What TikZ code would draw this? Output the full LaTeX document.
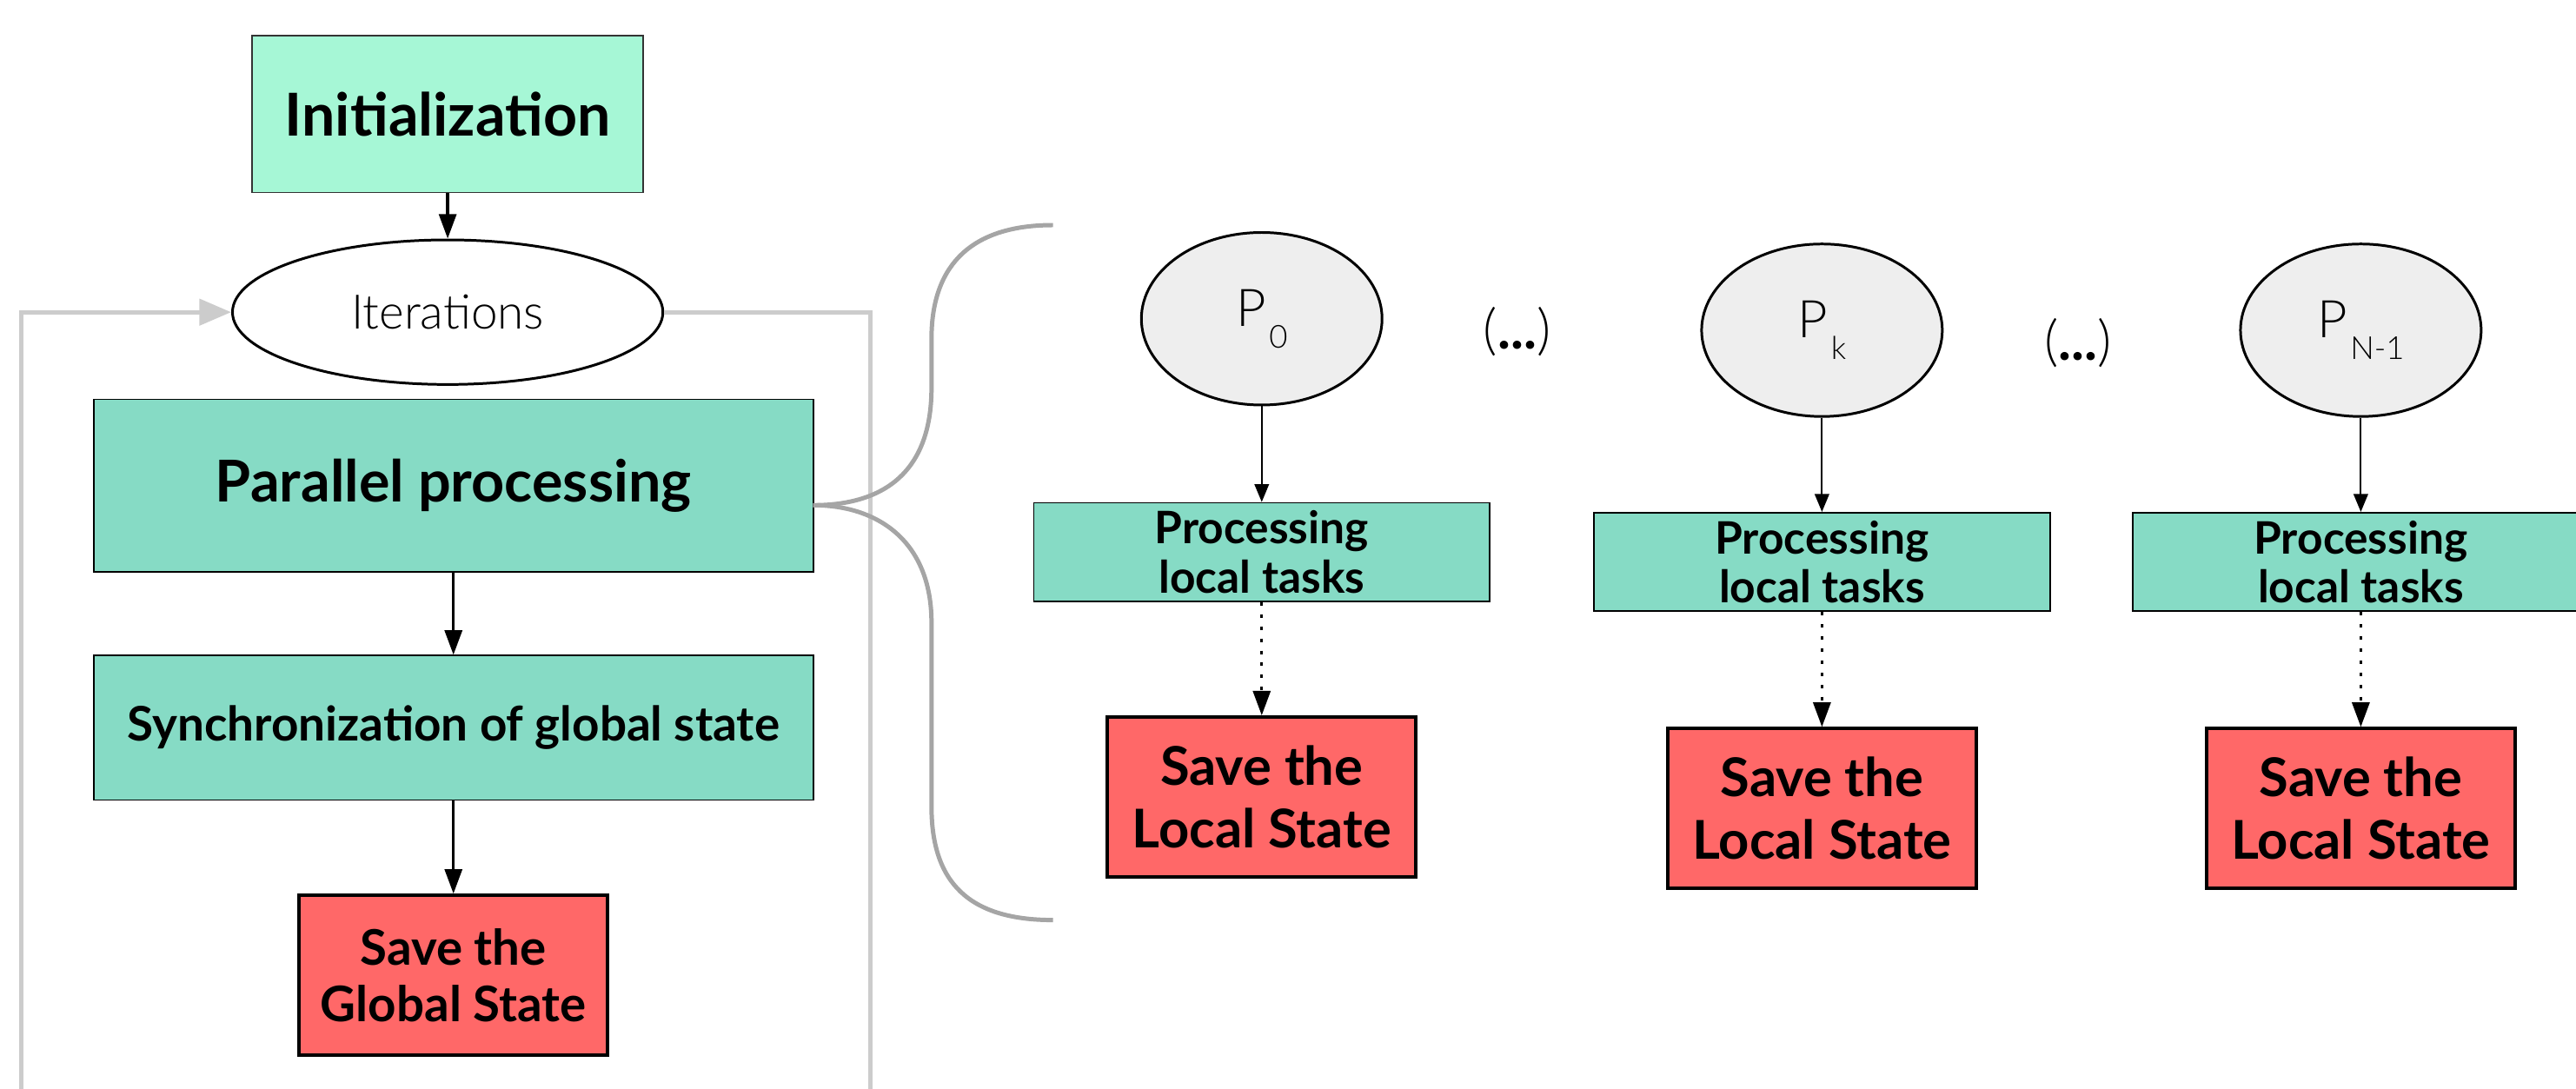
\documentclass[tikz,border=0pt]{standalone}
\usepackage{fontspec}
\setmainfont{Lato}
\IfFontExistsTF{Lato-Light.ttf}{\newfontfamily\thinfont{Lato-Light.ttf}}{\newfontfamily\thinfont{Lato}}
\usetikzlibrary{arrows.meta,shapes.geometric}
\definecolor{initcol}{RGB}{166,247,214}
\definecolor{tealcol}{RGB}{134,219,197}
\definecolor{savecol}{RGB}{255,104,104}
\definecolor{procgray}{RGB}{238,238,238}
\definecolor{loopgray}{RGB}{204,204,204}
\definecolor{bracegray}{RGB}{165,165,165}
\def\psub#1{P\hspace{0.06em}\raisebox{-0.42em}{\fontsize{11}{11}\selectfont #1}}

\begin{document}
\begin{tikzpicture}[
	initbox/.style={draw=black!80, line width=0.5pt, fill=initcol, inner sep=0pt, minimum width=4.76cm, minimum height=1.91cm, font=\fontsize{20.5}{24}\selectfont\bfseries},
	tealbox/.style={draw=black, line width=0.5pt, fill=tealcol, inner sep=0pt, minimum width=8.76cm, align=center},
	localbox/.style={draw=black, line width=0.5pt, fill=tealcol, inner sep=0pt, minimum width=5.55cm, minimum height=1.2cm, align=center, font=\fontsize{15.5}{17}\selectfont\bfseries},
	savebox/.style={draw=black, line width=1.2pt, fill=savecol, inner sep=0pt, minimum width=3.76cm, minimum height=1.94cm, align=center},
	itnode/.style={ellipse, draw, line width=0.9pt, fill=white, inner sep=0pt, minimum width=5.24cm, minimum height=1.76cm, font=\thinfont\fontsize{16.5}{18}\selectfont},
	procnode/.style={ellipse, draw, line width=0.9pt, fill=procgray, inner sep=0pt, minimum width=2.93cm, minimum height=2.1cm, font=\thinfont\fontsize{18}{20}\selectfont},
	flow/.style={-{Triangle[length=8.5pt,width=6pt]}, line width=1pt},
	thinflow/.style={-{Triangle[length=6.2pt,width=5pt]}, line width=0.6pt},
	dotflow/.style={-{Triangle[length=8.5pt,width=6pt]}, line width=1pt, dash pattern=on 1.2pt off 3pt},
	loopline/.style={draw=loopgray, line width=1.5pt},
	]
	%%%%% START %%%%%
	\useasboundingbox (0, 0) rectangle (31.36, -13.247);
	
	% main loop
	\node[initbox] (init) at (5.45, -1.39) {Initialization};
	\node[itnode] (iter) at (5.45, -3.80) {Iterations};
	\node[tealbox, minimum height=2.10cm, font=\fontsize{20}{22}\selectfont\bfseries] (par) at (5.52, -5.91) {Parallel processing};
	\node[tealbox, minimum height=1.76cm, font=\fontsize{16.5}{18}\selectfont\bfseries] (sync) at (5.52, -8.86) {Synchronization of global state};
	\node[savebox, font=\fontsize{17}{19.5}\selectfont\bfseries] (saveg) at (5.52, -11.87) {Save the\\Global State};
	
	\draw[flow] (init) -- (iter);
	\draw[flow] (par) -- (sync);
	\draw[flow] (sync) -- (saveg);
	
	\coordinate (loopL) at (0.26, -13.26);
	\coordinate (loopR) at (10.60, -13.26);
	\draw[loopline, -{Triangle[length=11pt,width=9pt]}] (loopL) |- (iter.west);
	\draw[loopline] (iter.east) -| (loopR);
	
	% brace
	\coordinate (tip) at (9.90, -6.15);
	\draw[draw=bracegray, line width=1.5pt] (12.82, -2.74) .. controls (11.75, -2.74) and (11.34, -3.30) .. (11.34, -4.12) -- (11.34, -4.72) .. controls (11.34, -5.80) and (10.70, -6.15) .. (tip);
	\draw[draw=bracegray, line width=1.5pt] (tip) .. controls (10.70, -6.15) and (11.34, -6.60) .. (11.34, -7.58) -- (11.34, -9.82) .. controls (11.34, -10.75) and (11.80, -11.20) .. (12.82, -11.20);
	
	% processes
	\node[procnode] (p0) at (15.36, -3.88) {\psub{0}};
	\node[localbox] (task0) at (15.36, -6.72) {Processing\\local tasks};
	\node[savebox, font=\fontsize{18.5}{21.6}\selectfont\bfseries] (save0) at (15.36, -9.70) {Save the\\Local State};
	
	\node[font=\thinfont\fontsize{19}{20}\selectfont] (dots1) at (18.47, -4.04) {({\normalfont\bfseries...})};
	
	\node[procnode] (pk) at (22.18, -4.02) {\psub{k}};
	\node[localbox] (taskk) at (22.18, -6.84) {Processing\\local tasks};
	\node[savebox, font=\fontsize{18.5}{21.6}\selectfont\bfseries] (savek) at (22.18, -9.84) {Save the\\Local State};
	
	\node[font=\thinfont\fontsize{19}{20}\selectfont] (dots2) at (25.30, -4.17) {({\normalfont\bfseries...})};
	
	\node[procnode] (pn) at (28.74, -4.02) {\psub{N-1}};
	\node[localbox] (taskn) at (28.74, -6.84) {Processing\\local tasks};
	\node[savebox, font=\fontsize{18.5}{21.6}\selectfont\bfseries] (saven) at (28.74, -9.84) {Save the\\Local State};
	
	\draw[thinflow] (p0) -- (task0);
	\draw[thinflow] (pk) -- (taskk);
	\draw[thinflow] (pn) -- (taskn);
	\draw[dotflow] (task0) -- (save0);
	\draw[dotflow] (taskk) -- (savek);
	\draw[dotflow] (taskn) -- (saven);
	%%%%% END %%%%%
\end{tikzpicture}
\end{document}
